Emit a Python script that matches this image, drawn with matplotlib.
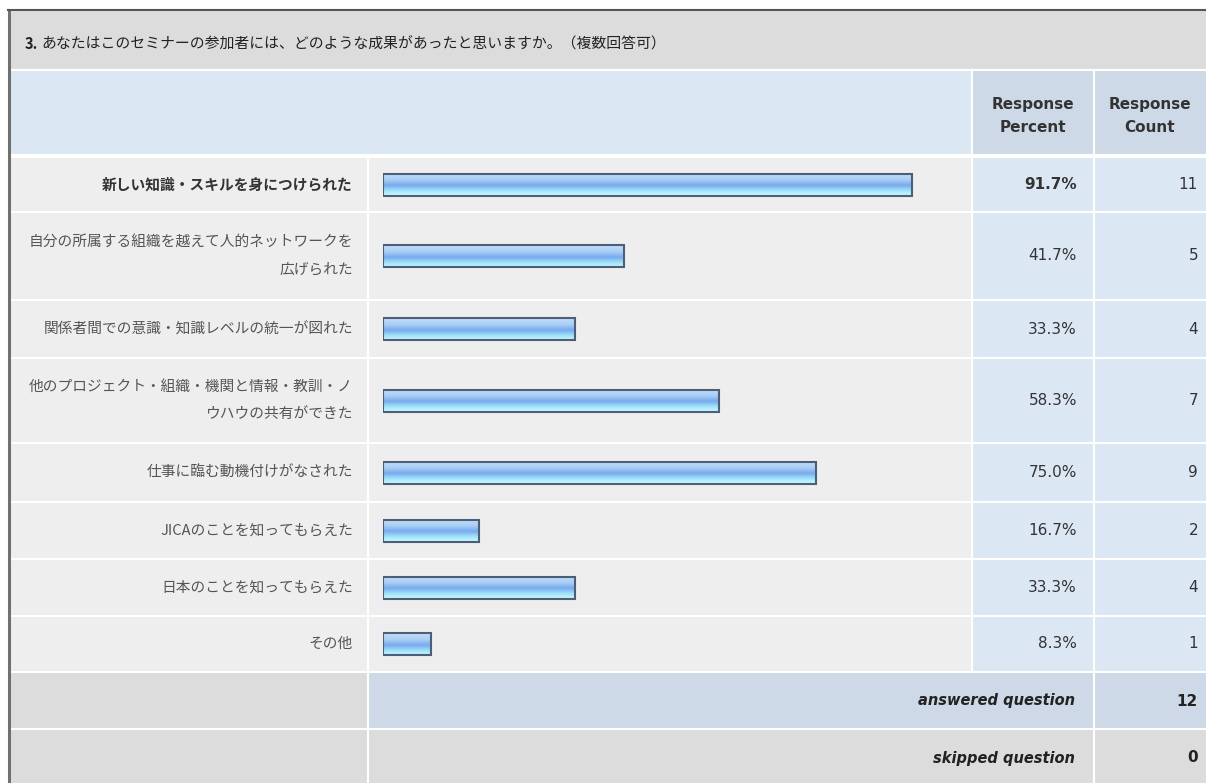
import matplotlib
matplotlib.use("Agg")
import matplotlib.pyplot as plt
import numpy as np
from matplotlib.patches import Rectangle
from matplotlib.colors import LinearSegmentedColormap

plt.rcParams["font.family"] = ["Noto Sans CJK JP", "DejaVu Sans"]

# --- data ---
title = "あなたはこのセミナーの参加者には、どのような成果があったと思いますか。（複数回答可）"
answers = [
    "新しい知識・スキルを身につけられた",
    "自分の所属する組織を越えて人的ネットワークを\n広げられた",
    "関係者間での意識・知識レベルの統一が図れた",
    "他のプロジェクト・組織・機関と情報・教訓・ノ\nウハウの共有ができた",
    "仕事に臨む動機付けがなされた",
    "JICAのことを知ってもらえた",
    "日本のことを知ってもらえた",
    "その他",
]
percents = [91.7, 41.7, 33.3, 58.3, 75.0, 16.7, 33.3, 8.3]
counts = [11, 5, 4, 7, 9, 2, 4, 1]
answered = 12
skipped = 0

# --- layout (pixels) ---
W, H = 1206, 783
row_edges = [157, 212, 300, 358, 443, 502, 559, 616, 672]
centers = [(a + b) / 2 for a, b in zip(row_edges[:-1], row_edges[1:])]
X_LEFT, X_BAR, X_PCT, X_CNT = 10, 368, 972, 1094

GREY = "#dcdcdc"
LIGHT = "#eeeeee"
BLUE = "#dce7f4"
BLUE2 = "#cdd9e6"

fig = plt.figure(figsize=(W / 100, H / 100), dpi=100)
ax = fig.add_axes([0, 0, 1, 1])
ax.set_xlim(0, W)
ax.set_ylim(H, 0)
ax.axis("off")


def cell(x0, x1, y0, y1, color):
    ax.add_patch(Rectangle((x0, y0), x1 - x0, y1 - y0, facecolor=color,
                           edgecolor="white", lw=1.5))


# title + header
cell(X_LEFT, W + 5, 10, 70, GREY)
cell(X_LEFT, X_PCT, 70, 155, BLUE)
cell(X_PCT, X_CNT, 70, 155, BLUE2)
cell(X_CNT, W + 5, 70, 155, BLUE2)

ax.text(25, 44, "3.", fontsize=10.5, fontweight="bold", color="#222",
        va="center", ha="left")
ax.text(41, 44, title, fontsize=10.7, color="#222", va="center", ha="left")

for xc, lbl in [((X_PCT + X_CNT) / 2, "Response\nPercent"),
                ((X_CNT + W) / 2, "Response\nCount")]:
    ax.text(xc, 116, lbl, family="DejaVu Sans", fontsize=11,
            fontweight="bold", color="#333", ha="center", va="center",
            linespacing=1.75)

# data rows
for i, (y0, y1) in enumerate(zip(row_edges[:-1], row_edges[1:])):
    cell(X_LEFT, X_BAR, y0, y1, LIGHT)
    cell(X_BAR, X_PCT, y0, y1, LIGHT)
    cell(X_PCT, X_CNT, y0, y1, BLUE)
    cell(X_CNT, W + 5, y0, y1, BLUE)
    bold = i == 0
    ax.text(353, centers[i], answers[i], fontsize=10.6, ha="right",
            va="center", linespacing=2.25,
            color="#333" if bold else "#555",
            fontweight="bold" if bold else "normal")
    ax.text(1077, centers[i], f"{percents[i]:.1f}%", family="DejaVu Sans",
            fontsize=11, ha="right", va="center", color="#333",
            fontweight="bold" if bold else "normal")
    ax.text(1198, centers[i], str(counts[i]), family="DejaVu Sans",
            fontsize=11, ha="right", va="center", color="#333")

# footer rows
cell(X_LEFT, X_BAR, 672, 729, GREY)
cell(X_BAR, X_CNT, 672, 729, BLUE2)
cell(X_CNT, W + 5, 672, 729, BLUE2)
cell(X_LEFT, X_BAR, 729, H + 5, GREY)
cell(X_BAR, X_CNT, 729, H + 5, GREY)
cell(X_CNT, W + 5, 729, H + 5, GREY)
for yc, lbl, val in [(701, "answered question", answered),
                     (758, "skipped question", skipped)]:
    ax.text(1075, yc, lbl, family="DejaVu Sans", fontsize=10.5,
            fontweight="bold", style="italic", color="#222",
            ha="right", va="center")
    ax.text(1198, yc, str(val), family="DejaVu Sans", fontsize=11,
            fontweight="bold", color="#222", ha="right", va="center")

# outer border
ax.plot([9, 9], [10, H], color="#707070", lw=2.2)
ax.plot([8, W], [10, 10], color="#555555", lw=1.5)

# bars: 0..100% mapped onto the bar column
bx = fig.add_axes([383 / W, 0, (960 - 383) / W, 1])
bx.set_xlim(0, 100)
bx.set_ylim(H, 0)
bx.axis("off")
bx.patch.set_alpha(0)
bars = bx.barh(centers, percents, height=22, color="#8dbcf2",
               edgecolor="#4d5f78", linewidth=1.5, zorder=3)
cmap = LinearSegmentedColormap.from_list(
    "glass", [(0, "#c4def9"), (0.3, "#a8cef6"), (0.55, "#78aaee"),
              (0.8, "#9fe2fa"), (1, "#c8f6fc")])
grad = np.linspace(0, 1, 64).reshape(-1, 1)
for b in bars:
    x0, y0 = b.get_x(), b.get_y()
    im = bx.imshow(grad, cmap=cmap, aspect="auto", zorder=2,
                   extent=[x0, x0 + b.get_width(), y0 + b.get_height(), y0])
    im.set_clip_path(b)
    b.set_facecolor("none")
bx.set_xlim(0, 100)
bx.set_ylim(H, 0)

fig.savefig("out.png", dpi=100)
